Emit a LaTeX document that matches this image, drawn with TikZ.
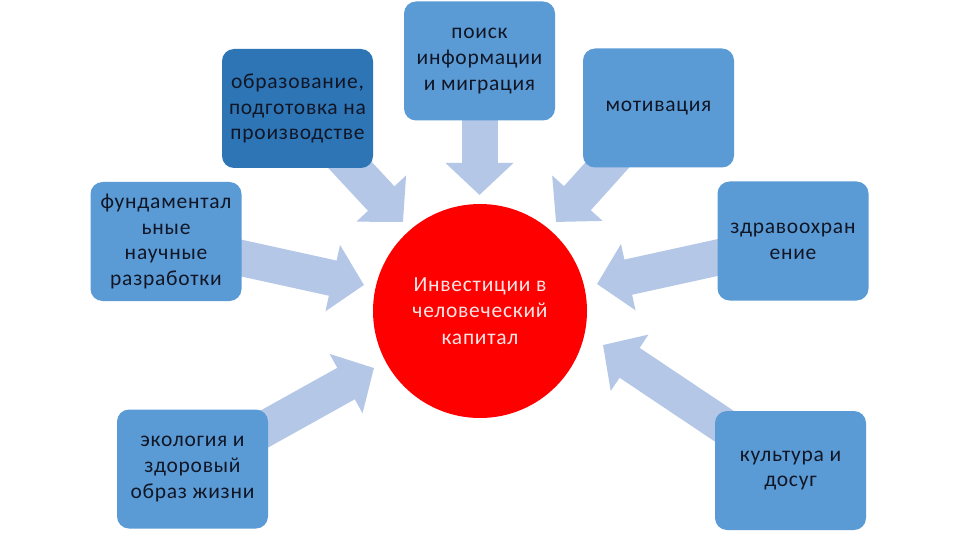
\documentclass[tikz,border=0pt]{standalone}
\usepackage{fontspec}
\setmainfont{Carlito}[LetterSpace=3.5]
\usetikzlibrary{arrows.meta,backgrounds}
\definecolor{boxblue}{RGB}{91,155,213}
\definecolor{boxdark}{RGB}{46,117,182}
\definecolor{arrowblue}{RGB}{180,199,231}
\definecolor{txtdark}{RGB}{16,22,38}
\definecolor{circtxt}{RGB}{250,228,228}
\begin{document}
\begin{tikzpicture}[x=1pt,y=-1pt,
  box/.style={rectangle, rounded corners=12pt, fill=boxblue, text=txtdark, align=center,
    font=\fontsize{21.5}{25.7}\selectfont, inner sep=0pt, minimum width=151pt, minimum height=119pt},
  flow/.style={draw=arrowblue, line width=36pt, -{Triangle[length=32pt,width=66pt]}},
]
\useasboundingbox (0,0) rectangle (960,540);

\node[box, fill=boxdark] (edu) at (297.5,108.5) {образование,\\подготовка на\\производстве};
\node[box] (search) at (479.5,61) {поиск\\информации\\и миграция};
\node[box] (motiv) at (658.5,108) {мотивация};
\node[box] (fund) at (166,241.5) {фундаментал\\ьные\\научные\\разработки};
\node[box] (health) at (793,241) {здравоохран\\ение};
\node[box] (eco) at (192.5,469) {экология и\\здоровый\\образ жизни};
\node[box] (cult) at (790.5,470.5) {культура и\\досуг};

\node[circle, fill=red, minimum size=214pt, inner sep=0pt, text=circtxt, align=center,
  font=\fontsize{21.5}{26.3}\selectfont] (hc) at (480,311) {Инвестиции в\\человеческий\\капитал};

\coordinate (tEdu) at (403,222);
\coordinate (tSearch) at (479.5,195);
\coordinate (tMotiv) at (556,222);
\coordinate (tFund) at (364,285);
\coordinate (tHealth) at (597,284);
\coordinate (tEco) at (374,368);
\coordinate (tCult) at (603,345);

\begin{scope}[on background layer]
\fill[white] (0,0) rectangle (960,540);
\draw[flow] (edu.center) -- (tEdu);
\draw[flow] (search.center) -- (tSearch);
\draw[flow] (motiv.center) -- (tMotiv);
\draw[flow] (fund.center) -- (tFund);
\draw[flow] (health.center) -- (tHealth);
\draw[flow] (eco.center) -- (tEco);
\draw[flow] (cult.center) -- (tCult);
\end{scope}
\end{tikzpicture}
\end{document}
